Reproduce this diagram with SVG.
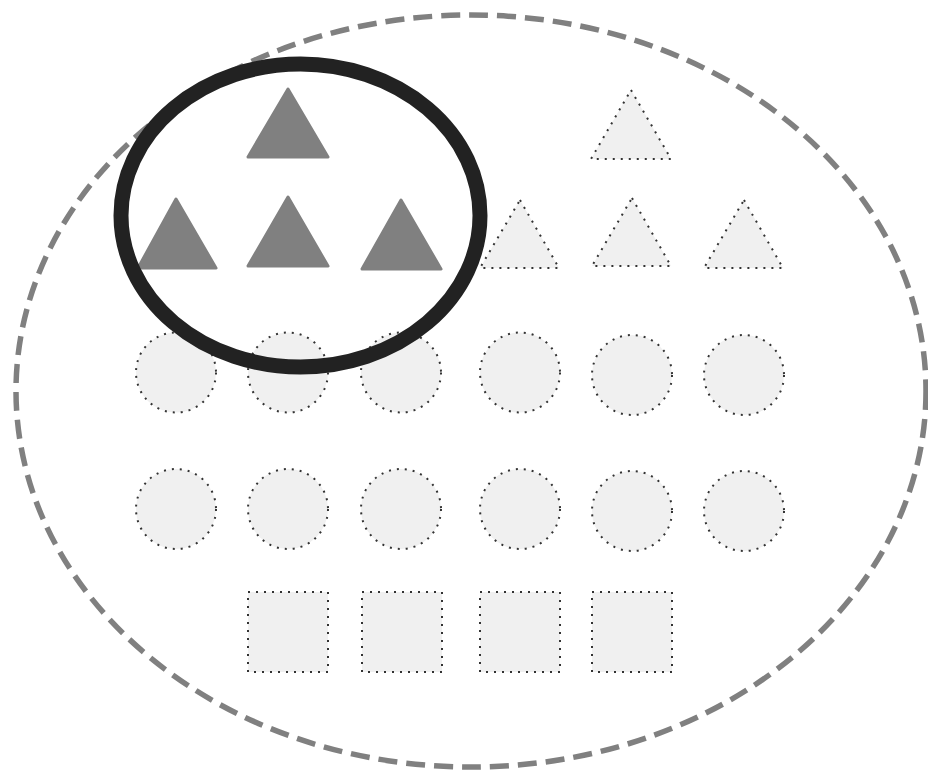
<svg xmlns="http://www.w3.org/2000/svg" width="928" height="773" viewBox="0 0 928 773">
<style>
.light{fill:#f0f0f0;stroke:#333;stroke-width:2;stroke-dasharray:2 6}
.dark{fill:#808080;stroke:#808080;stroke-width:3;stroke-linejoin:round}
</style>
<rect width="928" height="773" fill="#fff"/>
<g id="outer">
<ellipse cx="471" cy="391" rx="455" ry="376" fill="none" stroke="#808080" stroke-width="5.5" stroke-dasharray="19 9"/>
</g>
<g id="light-triangles">
<polygon class="light" points="631,90 671,159 591,159"/>
<polygon class="light" points="520,200 559,268 480,268"/>
<polygon class="light" points="632,198 671,266 592,266"/>
<polygon class="light" points="744,200 783,268 704,268"/>
</g>
<g id="circles">
<circle class="light" cx="176" cy="372.5" r="40"/>
<circle class="light" cx="288" cy="372.5" r="40"/>
<circle class="light" cx="401" cy="372.5" r="40"/>
<circle class="light" cx="520" cy="372.5" r="40"/>
<circle class="light" cx="632" cy="375" r="40"/>
<circle class="light" cx="744" cy="375" r="40"/>
<circle class="light" cx="176" cy="509" r="40"/>
<circle class="light" cx="288" cy="509" r="40"/>
<circle class="light" cx="401" cy="509" r="40"/>
<circle class="light" cx="520" cy="509" r="40"/>
<circle class="light" cx="632" cy="511" r="40"/>
<circle class="light" cx="744" cy="511" r="40"/>
</g>
<g id="squares">
<rect class="light" x="248" y="592" width="80" height="80"/>
<rect class="light" x="362" y="592" width="80" height="80"/>
<rect class="light" x="480" y="592" width="80" height="80"/>
<rect class="light" x="592" y="592" width="80" height="80"/>
</g>
<g id="dark-triangles">
<polygon class="dark" points="288,89 328,157 248,157"/>
<polygon class="dark" points="176,199 216,268 138,268"/>
<polygon class="dark" points="288,197 328,266 248,266"/>
<polygon class="dark" points="401,200 441,269 362,269"/>
</g>
<g id="selection">
<ellipse cx="300.5" cy="215.5" rx="179.5" ry="151.5" fill="none" stroke="#222" stroke-width="15"/>
</g>
</svg>
